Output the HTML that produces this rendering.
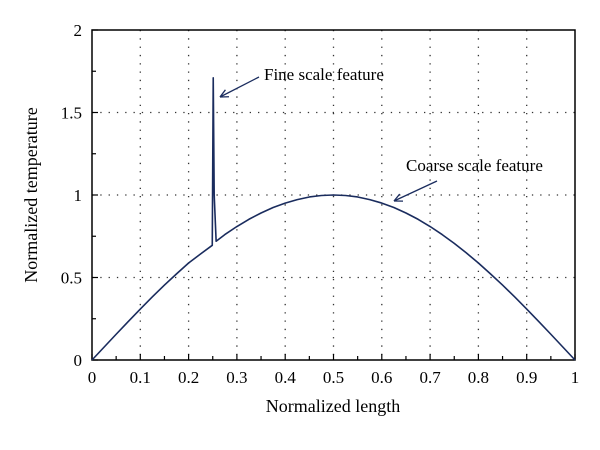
<!DOCTYPE html>
<html><head><meta charset="utf-8"><style>
body{margin:0;background:#fff}
svg{display:block;font-family:"Liberation Serif",serif}
</style></head><body>
<svg id="chart" width="600" height="450"></svg>
<script>
const xs=[0,0.025,0.05,0.075,0.1,0.125,0.15,0.175,0.2,0.225,0.249,0.251,0.253,0.257,0.275,0.3,0.325,0.35,0.375,0.4,0.425,0.45,0.475,0.5,0.525,0.55,0.575,0.6,0.625,0.65,0.675,0.7,0.725,0.75,0.775,0.8,0.825,0.85,0.875,0.9,0.925,0.95,0.975,1];
const ys=[0,0.078,0.156,0.233,0.309,0.383,0.454,0.522,0.588,0.643,0.695,1.71,1.0,0.72,0.76,0.809,0.853,0.891,0.924,0.951,0.972,0.988,0.997,1,0.997,0.988,0.972,0.951,0.924,0.891,0.853,0.809,0.760,0.707,0.649,0.588,0.522,0.454,0.383,0.309,0.233,0.156,0.078,0];
const xTicks=["0","0.1","0.2","0.3","0.4","0.5","0.6","0.7","0.8","0.9","1"];
const yTicks=["0","0.5","1","1.5","2"];
const NS="http://www.w3.org/2000/svg",svg=document.getElementById('chart');
const L=92,R=575,T=30,B=360;
const sx=v=>L+v*(R-L), sy=v=>B-v/2*(B-T);
function mk(t,a,p){const e=document.createElementNS(NS,t);for(const k in a)e.setAttribute(k,a[k]);(p||svg).appendChild(e);return e;}
xTicks.forEach((t,i)=>{const v=+t;if(v>0&&v<1){const g=mk('line',{x1:sx(v),x2:sx(v),y1:T,y2:B,stroke:'#333','stroke-width':1.3,'stroke-dasharray':'1.3 7'});

}});
yTicks.forEach(t=>{const v=+t;if(v>0&&v<2){const g=mk('line',{x1:L,x2:R,y1:sy(v),y2:sy(v),stroke:'#333','stroke-width':1.3,'stroke-dasharray':'1.3 7'});

}});
const f=mk('rect',{x:L,y:T,width:R-L,height:B-T,fill:'none',stroke:'#000','stroke-width':1.5});


for(let i=0;i<=20;i++){const v=i/20;const tk=mk('line',{x1:sx(v),x2:sx(v),y1:B,y2:B-(i%2?4:6),stroke:'#000','stroke-width':1.2});

}
for(let i=0;i<=8;i++){const v=i/4;const tk=mk('line',{x1:L,x2:L+(i%2?4:6),y1:sy(v),y2:sy(v),stroke:'#000','stroke-width':1.2});

}
xTicks.forEach(t=>{const e=mk('text',{x:sx(+t),y:B+23,'text-anchor':'middle','font-size':17});e.textContent=t;

});
yTicks.forEach(t=>{const e=mk('text',{x:L-10,y:sy(+t)+6,'text-anchor':'end','font-size':17});e.textContent=t;

});
const line=mk('polyline',{points:xs.map((x,i)=>sx(x)+','+sy(ys[i])).join(' '),fill:'none',stroke:'#1a2c5e','stroke-width':1.6,'stroke-linejoin':'round'});


function arrow(x1,y1,x2,y2,name){const g=mk('g',{stroke:'#1a2c5e','stroke-width':1.3,fill:'none'});


mk('line',{x1,y1,x2,y2},g);const a=Math.atan2(y1-y2,x1-x2);
[0.45,-0.45].forEach(d=>mk('line',{x1:x2,y1:y2,x2:x2+9*Math.cos(a+d),y2:y2+9*Math.sin(a+d)},g));}
arrow(259,77,220,97,'fine-arrow');
arrow(437,181,394,201,'coarse-arrow');
let e=mk('text',{x:264,y:80,'font-size':17});e.textContent='Fine scale feature';


e=mk('text',{x:406,y:171,'font-size':17});e.textContent='Coarse scale feature';


e=mk('text',{x:333,y:412,'text-anchor':'middle','font-size':18});e.textContent='Normalized length';


e=mk('text',{x:0,y:0,'text-anchor':'middle','font-size':18,transform:'translate(37,195) rotate(-90)'});e.textContent='Normalized temperature';


</script>
</body></html>
